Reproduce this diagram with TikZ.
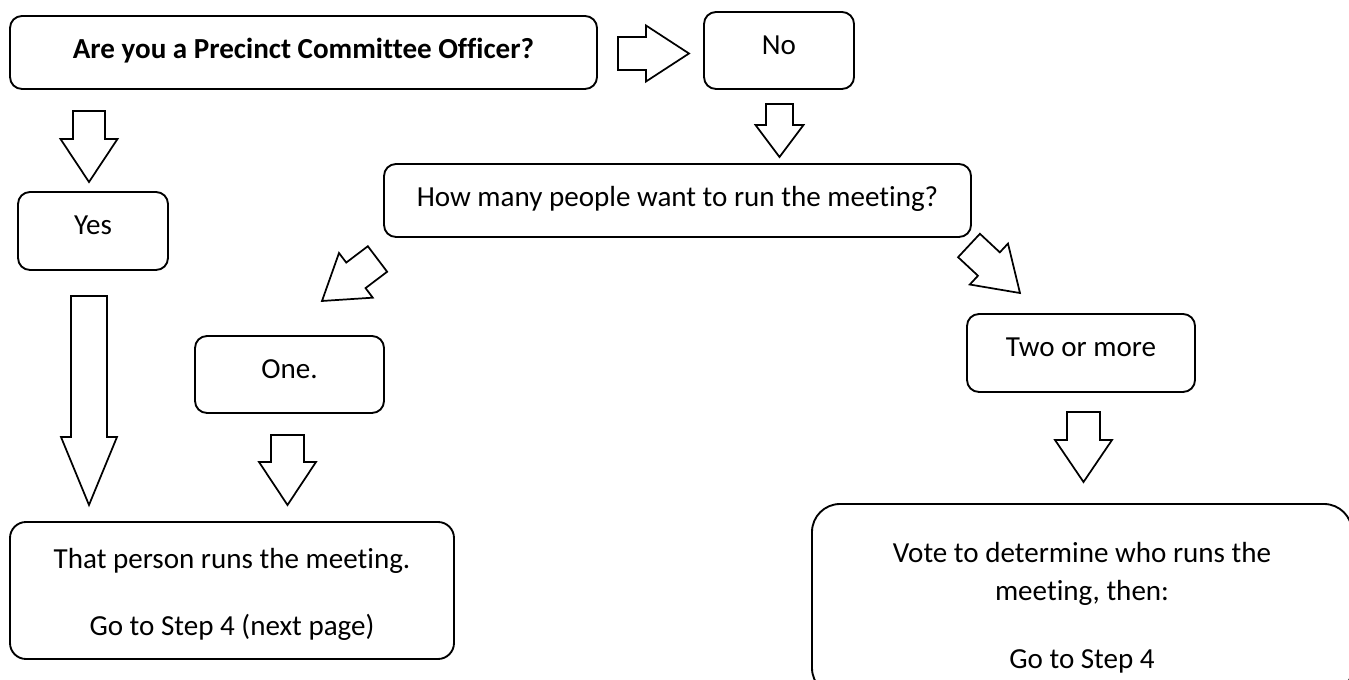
\documentclass[tikz,border=0pt]{standalone}
\usepackage{fontspec}
\setmainfont{Carlito}[Ligatures=NoCommon]
\newcommand\boxfont{\fontsize{21.8}{28.5}\selectfont}
\tikzset{
  box/.style={draw, line width=1.4pt, rounded corners=9pt, inner sep=0pt, font=\boxfont, text height=32.25pt},
  arrowline/.style={draw, line width=1.3pt, line join=miter},
  pics/barrow/.style n args={4}{code={
    \draw[arrowline] (0,-#2/2) -- ({#1-#4},-#2/2) -- ({#1-#4},-#3/2) -- (#1,0)
      -- ({#1-#4},#3/2) -- ({#1-#4},#2/2) -- (0,#2/2) -- cycle;
  }}
}

\begin{document}
\begin{tikzpicture}[x=0.75pt,y=0.75pt]
\useasboundingbox (0,0) rectangle (1349,-680);
\clip (0,0) rectangle (1349,-680);

\node[box, minimum width=440.25pt, minimum height=54.75pt, text depth=22.5pt] (officer) at (303.5,-52.5) {\bfseries Are you a Precinct Committee Officer?};
\node[box, minimum width=112.5pt, minimum height=57.75pt, text depth=25.5pt] (no) at (779,-50.5) {No};
\node[box, minimum width=112.5pt, minimum height=58.5pt, text depth=26.25pt] (yes) at (93,-231) {Yes};
\node[box, minimum width=440.25pt, minimum height=54.75pt, text depth=22.5pt] (howmany) at (677.5,-200.5) {How many people want to run the meeting?};
\node[box, minimum width=141.75pt, minimum height=57.75pt, text depth=25.5pt] (one) at (289.5,-374.5) {One.};
\node[box, minimum width=171pt, minimum height=58.5pt, text depth=26.25pt] (two) at (1081,-353) {Two or more};
\node[box, rounded corners=12pt, minimum width=333pt, minimum height=102.75pt, text height=34.5pt, text depth=68.25pt] (person) at (232,-590.5)
  {\begin{tabular}[t]{@{}c@{}}That person runs the meeting.\\[21.75pt]Go to Step 4 (next page)\end{tabular}};
\node[box, rounded corners=21pt, minimum width=405pt, minimum height=144pt, text height=43.5pt, text depth=100.5pt] (vote) at (1082,-600)
  {\begin{tabular}[t]{@{}c@{}}Vote to determine who runs the\\meeting, then:\\[22.5pt]Go to Step 4\end{tabular}};

\pic at (618,-53.5) {barrow={71}{33}{56}{43}};
\pic[rotate=-90] at (779.5,-104) {barrow={53}{27}{48}{32}};
\pic[rotate=-90] at (89,-111) {barrow={71}{32}{57}{43}};
\pic[rotate=-90] at (89,-296) {barrow={209}{36}{56}{68}};
\pic[rotate=217.1] at (377.5,-259) {barrow={69.6}{32}{56}{42.5}};
\pic[rotate=-43] at (969,-245.5) {barrow={69.7}{32}{56}{42.5}};
\pic[rotate=-90] at (287.5,-435) {barrow={70}{33}{57}{43}};
\pic[rotate=-90] at (1083.5,-412) {barrow={70}{33}{57}{42}};
\end{tikzpicture}
\end{document}
